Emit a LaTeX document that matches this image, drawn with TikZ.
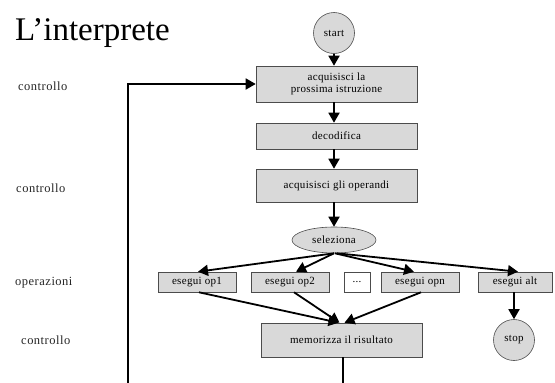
\documentclass[tikz,border=0pt]{standalone}
\usepackage{fontspec}
\setmainfont{Liberation Serif}
\newfontfamily\spacedserif[LetterSpace=3]{Liberation Serif}
\newfontfamily\labelserif[LetterSpace=4]{Liberation Serif}
\usetikzlibrary{arrows.meta,shapes.geometric}
\begin{document}
\begin{tikzpicture}[x=1pt,y=-1pt,
  boxfont/.style={font=\spacedserif\fontsize{11}{12.5}\selectfont},
  box/.style={draw=black!70, line width=0.6pt, fill=black!15, inner sep=0pt, align=center, boxfont},
  wbox/.style={box, fill=white},
  terminal/.style={circle, draw=black!70, line width=0.6pt, fill=black!15, inner sep=0pt, minimum size=41pt, boxfont},
  choice/.style={ellipse, draw=black!70, line width=0.6pt, fill=black!15, inner sep=0pt, minimum width=84pt, minimum height=26pt, boxfont},
  flow/.style={line width=1.8pt, -{Triangle[length=10pt,width=11pt]}},
  plain/.style={line width=1.8pt},
  side/.style={anchor=west, font=\labelserif\fontsize{12.5}{14}\selectfont, text=black!85}
]
\useasboundingbox (0,0) rectangle (555,383);

\node[anchor=base west, inner sep=0pt, font=\fontsize{33}{35}\selectfont] (title) at (15,40) {L’interprete};

\node[side, inner sep=0pt] (c1) at (18,86) {controllo};
\node[side, inner sep=0pt] (c2) at (16,188) {controllo};
\node[side, inner sep=0pt] (ops) at (15,283) {operazioni};
\node[side, inner sep=0pt] (c3) at (21,340) {controllo};

\node[terminal] (start) at (334,33) {start};
\node[box, minimum width=161pt, minimum height=36pt] (fetch) at (336.5,84) {acquisisci la\\prossima istruzione};
\node[box, minimum width=161pt, minimum height=26pt] (dec) at (336.5,136) {decodifica};
\node[box, minimum width=161pt, minimum height=33pt] (opnd) at (336.5,185.5) {acquisisci gli operandi};
\node[choice] (sel) at (334,240) {seleziona};
\node[box, minimum width=78pt, minimum height=20pt] (op1) at (197,282) {esegui op1};
\node[box, minimum width=78pt, minimum height=20pt] (op2) at (290,282) {esegui op2};
\node[wbox, minimum width=26pt, minimum height=20pt] (dots) at (357,282) {...};
\node[box, minimum width=78pt, minimum height=20pt] (opn) at (420,282) {esegui opn};
\node[box, minimum width=74pt, minimum height=20pt] (alt) at (515,282) {esegui alt};
\node[box, minimum width=161pt, minimum height=34pt] (mem) at (341.5,340) {memorizza il risultato};
\node[terminal] (stop) at (514,340) {stop};

\coordinate (loopbot) at (128,383);
\coordinate (membot) at (343,383);

\draw[flow] (start) -- (start |- fetch.north);
\draw[flow] (fetch.south -| start) -- (dec.north -| start);
\draw[flow] (dec.south -| start) -- (opnd.north -| start);
\draw[flow] (opnd.south -| start) -- (sel.north);
\draw[flow] (sel.south) -- ([xshift=1pt]op1.north);
\draw[flow] (sel.south) -- ([xshift=6pt]op2.north);
\draw[flow] ([xshift=1pt]sel.south) -- ([xshift=-6pt]opn.north);
\draw[flow] ([xshift=3pt]sel.south) -- ([xshift=3pt]alt.north);
\draw[flow] ([xshift=2pt]op1.south) -- ([xshift=-3pt]mem.north);
\draw[flow] ([xshift=4pt]op2.south) -- ([xshift=-2pt]mem.north);
\draw[flow] ([xshift=1pt]opn.south) -- ([xshift=3pt]mem.north);
\draw[flow] (alt.south -| stop) -- (stop.north);
\draw[plain] ([xshift=1.5pt]mem.south) -- (membot);
\draw[flow] (loopbot) |- (fetch.west);
\end{tikzpicture}
\end{document}
